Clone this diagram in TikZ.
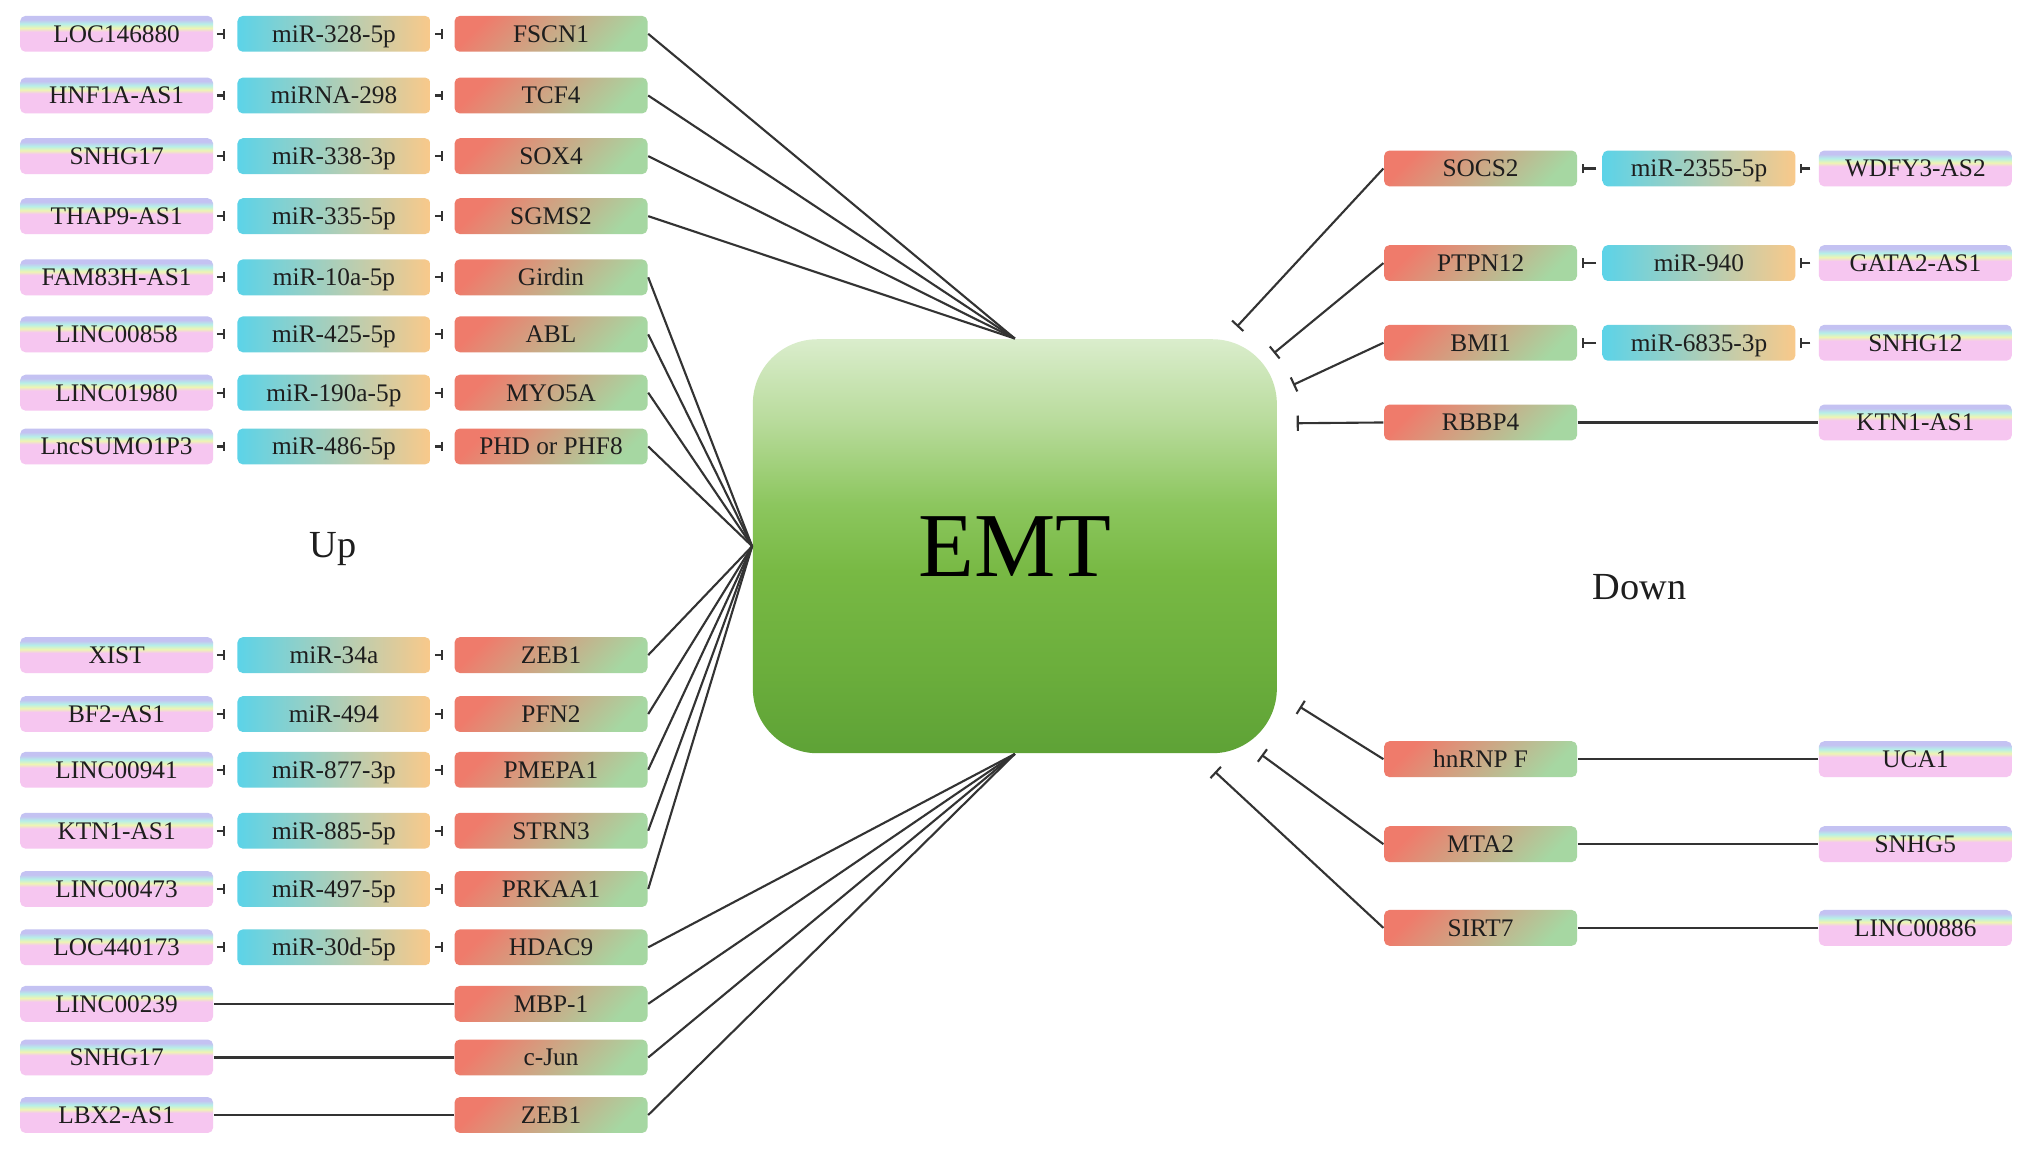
\documentclass[tikz,border=0pt]{standalone}
\usepackage{fontspec}
\setmainfont{Liberation Serif}
\usetikzlibrary{arrows.meta}
\definecolor{lncPink}{HTML}{F6C6F0}
\definecolor{lncYellow}{HTML}{EEF5B2}
\definecolor{lncCyan}{HTML}{B6EFE8}
\definecolor{lncLav}{HTML}{C4C2F2}
\definecolor{mirCyan}{HTML}{5CD3E8}
\definecolor{mirPeach}{HTML}{F9C98A}
\definecolor{tgtRed}{HTML}{EF7B6B}
\definecolor{tgtGreen}{HTML}{A6D7A2}
\definecolor{emtA}{HTML}{5EA236}
\definecolor{emtB}{HTML}{6BAE3C}
\definecolor{emtC}{HTML}{78B944}
\definecolor{emtD}{HTML}{8CC65E}
\definecolor{emtE}{HTML}{B8DB9B}
\definecolor{emtF}{HTML}{DAEDCC}
\definecolor{txtC}{HTML}{1E1E1E}
\definecolor{lineC}{HTML}{333333}
\pgfdeclareverticalshading{lncshade}{100bp}{color(0bp)=(lncPink); color(53bp)=(lncPink); color(58bp)=(lncYellow); color(64bp)=(lncCyan); color(70bp)=(lncLav); color(100bp)=(lncLav)}
\pgfdeclareverticalshading{emtshade}{100bp}{color(0bp)=(emtA); color(25bp)=(emtA); color(35bp)=(emtB); color(47bp)=(emtC); color(55bp)=(emtD); color(65bp)=(emtE); color(75bp)=(emtF); color(100bp)=(emtF)}
\begin{document}
\begin{tikzpicture}[x=0.36875pt, y=-0.36875pt,
  box/.style={rounded corners=1.5pt, minimum width=54.9pt, minimum height=10.2pt, inner sep=0pt,
    text height=4.8pt, text depth=0pt,
    font=\fontsize{7.2}{8}\selectfont, text=txtC},
  lnc/.style={box, shade, shading=lncshade},
  mir/.style={box, left color=mirCyan, right color=mirPeach},
  tgt/.style={box, left color=tgtRed, right color=tgtGreen, shading angle=45},
  emt/.style={shade, shading=emtshade, rounded corners=18.4pt, minimum width=149.1pt,
    minimum height=117.8pt, inner sep=0pt, font=\fontsize{26}{30}\selectfont, text=black},
  conn/.style={draw=lineC, line width=0.6pt},
  inhib/.style={conn, -{Bar[width=4.4pt]}},
  inhs/.style={conn, -{Bar[width=2.8pt]}},
  lbl/.style={font=\fontsize{10.9}{12}\selectfont, text=txtC}]
\fill[white] (0,0) rectangle (1568,887.4);
\useasboundingbox (0,0) rectangle (1568,887.4);

\node[emt] (E) at (783.1,421.5) {EMT};
\node[lbl] (up) at (257,424) {Up};
\node[lbl] (down) at (1265,453) {Down};

% left rows with miRNA
\foreach \i/\y/\a/\b/\c/\anc in {
  1/26.1/LOC146880/miR-328-5p/FSCN1/north,
  2/73.7/HNF1A-AS1/miRNA-298/TCF4/north,
  3/120.5/SNHG17/miR-338-3p/SOX4/north,
  4/166.8/THAP9-AS1/miR-335-5p/SGMS2/north,
  5/214/FAM83H-AS1/miR-10a-5p/Girdin/west,
  6/258/LINC00858/miR-425-5p/ABL/west,
  7/303/LINC01980/miR-190a-5p/MYO5A/west,
  8/344.5/LncSUMO1P3/miR-486-5p/PHD or PHF8/west,
  9/505.5/XIST/miR-34a/ZEB1/west,
  10/551/BF2-AS1/miR-494/PFN2/west,
  11/594/LINC00941/miR-877-3p/PMEPA1/west,
  12/641/KTN1-AS1/miR-885-5p/STRN3/west,
  13/686/LINC00473/miR-497-5p/PRKAA1/west,
  14/731/LOC440173/miR-30d-5p/HDAC9/south}{
  \node[lnc] (L\i) at (90,\y) {\a};
  \node[mir] (M\i) at (257.7,\y) {\b};
  \node[tgt] (T\i) at (425.2,\y) {\c};
  \draw[inhs, shorten <=0.9pt, shorten >=3.3pt] (L\i.east) -- (M\i.west);
  \draw[inhs, shorten <=1.1pt, shorten >=3.2pt] (M\i.east) -- (T\i.west);
  \draw[conn] (T\i.east) -- (E.\anc);
}
% left rows without miRNA
\foreach \i/\y/\a/\c in {
  15/774.6/LINC00239/MBP-1,
  16/816/SNHG17/c-Jun,
  17/860.4/LBX2-AS1/ZEB1}{
  \node[lnc] (L\i) at (90,\y) {\a};
  \node[tgt] (T\i) at (425.2,\y) {\c};
  \draw[conn] (L\i.east) -- (T\i.west);
  \draw[conn] (T\i.east) -- (E.south);
}

% right rows with miRNA
\foreach \i/\y/\c/\b/\a/\bx/\by in {
  1/130/SOCS2/miR-2355-5p/WDFY3-AS2/954.5/252,
  2/203/PTPN12/miR-940/GATA2-AS1/983/272.5,
  3/264.5/BMI1/miR-6835-3p/SNHG12/997.8/297}{
  \node[tgt] (RT\i) at (1142.5,\y) {\c};
  \node[mir] (RM\i) at (1311,\y) {\b};
  \node[lnc] (RL\i) at (1478,\y) {\a};
  \coordinate (B\i) at (\bx,\by);
  \draw[inhs, shorten <=1.6pt, shorten >=1.2pt] (RM\i.west) -- (RT\i.east);
  \draw[inhs, shorten <=2.2pt, shorten >=1.1pt] (RL\i.west) -- (RM\i.east);
  \draw[inhib] (RT\i.west) -- (B\i);
}
% right rows without miRNA
\foreach \i/\y/\c/\a/\bx/\by in {
  4/326/RBBP4/KTN1-AS1/1000.6/326.6,
  5/585.8/hnRNP F/UCA1/1003/545.4,
  6/651.4/MTA2/SNHG5/973.5/582.5,
  7/716/SIRT7/LINC00886/937.5/595.5}{
  \node[tgt] (RT\i) at (1142.5,\y) {\c};
  \node[lnc] (RL\i) at (1478,\y) {\a};
  \coordinate (B\i) at (\bx,\by);
  \draw[conn] (RT\i.east) -- (RL\i.west);
  \draw[inhib] (RT\i.west) -- (B\i);
}
\end{tikzpicture}
\end{document}
